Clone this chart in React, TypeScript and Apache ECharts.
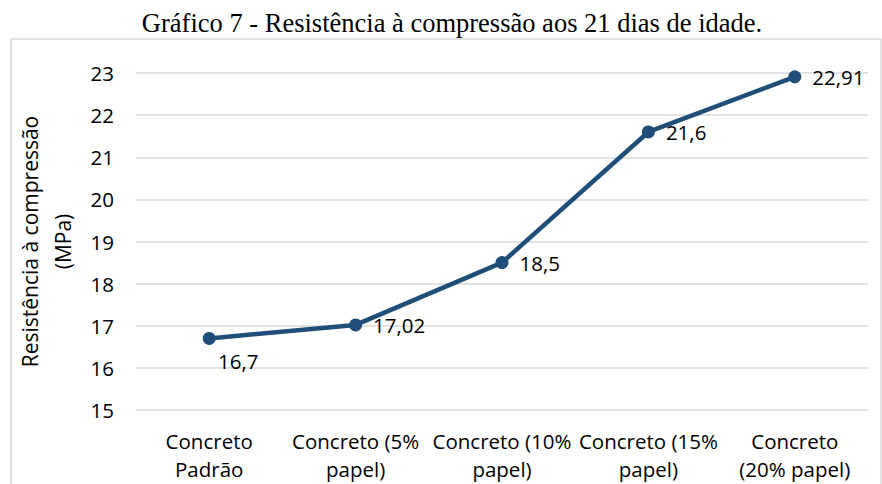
import React, { useEffect, useRef } from "react";
import * as echarts from "echarts";

const categories = [
  "Concreto\nPadrão",
  "Concreto (5%\npapel)",
  "Concreto (10%\npapel)",
  "Concreto (15%\npapel)",
  "Concreto\n(20% papel)",
];
const values = [16.7, 17.02, 18.5, 21.6, 22.91];
const valueLabels = ["16,7", "17,02", "18,5", "21,6", "22,91"];
const titleText = "Gráfico 7 - Resistência à compressão aos 21 dias de idade.";
const yAxisName = "Resistência à compressão\n(MPa)";

export default function App() {
  const ref = useRef<HTMLDivElement>(null);
  useEffect(() => {
    if (!ref.current) return;
    const chart = echarts.init(ref.current, undefined, { renderer: "svg" });
    const font = "'Open Sans', sans-serif";
    chart.setOption({
      animation: false,
      backgroundColor: "#ffffff",
      graphic: [
        {
          type: "rect",
          shape: { x: 11, y: 39, width: 870, height: 470 },
          style: { fill: "none", stroke: "#d9d9d9", lineWidth: 1.5 },
          z: -1,
        },
        {
          type: "text",
          x: 452,
          y: 23,
          style: {
            text: titleText,
            fontFamily: "'Liberation Serif', 'Times New Roman', serif",
            fontSize: 26.5,
            fill: "#000",
            textAlign: "center",
            textVerticalAlign: "middle",
          },
        },
      ],
      grid: {
        left: 136,
        right: 14,
        top: 73,
        bottom: 74,
        containLabel: false,
        outerBoundsMode: "none",
      },
      xAxis: {
        type: "category",
        data: categories,
        boundaryGap: true,
        axisLine: { show: false },
        axisTick: { show: false },
        axisLabel: {
          interval: 0,
          margin: 17,
          fontFamily: font,
          fontSize: 20.5,
          color: "#000",
          lineHeight: 28,
        },
      },
      yAxis: {
        type: "value",
        min: 15,
        max: 23,
        interval: 1,
        name: yAxisName,
        nameLocation: "middle",
        nameGap: 53,
        nameRotate: 90,
        nameTextStyle: {
          fontFamily: font,
          fontSize: 21,
          color: "#000",
          lineHeight: 33,
        },
        axisLine: { show: false },
        axisTick: { show: false },
        axisLabel: { fontFamily: font, fontSize: 20.5, color: "#000", margin: 22 },
        splitLine: { lineStyle: { color: "#d9d9d9", width: 1.5 } },
      },
      series: [
        {
          type: "line",
          data: values.map((v, i) => ({
            value: v,
            label:
              i === 0
                ? { position: "bottom", offset: [29, 1] }
                : { position: "right", distance: 11 },
          })),
          lineStyle: { color: "#1F4E79", width: 4.5 },
          itemStyle: { color: "#1F4E79" },
          symbol: "circle",
          symbolSize: 13,
          label: {
            show: true,
            fontFamily: font,
            fontSize: 20.5,
            color: "#000",
            formatter: (p: any) => valueLabels[p.dataIndex],
          },
        },
      ],
    });
    return () => chart.dispose();
  }, []);
  return (
    <div
      ref={ref}
      style={{ position: "fixed", left: 0, top: 0, width: 882, height: 484 }}
    />
  );
}
